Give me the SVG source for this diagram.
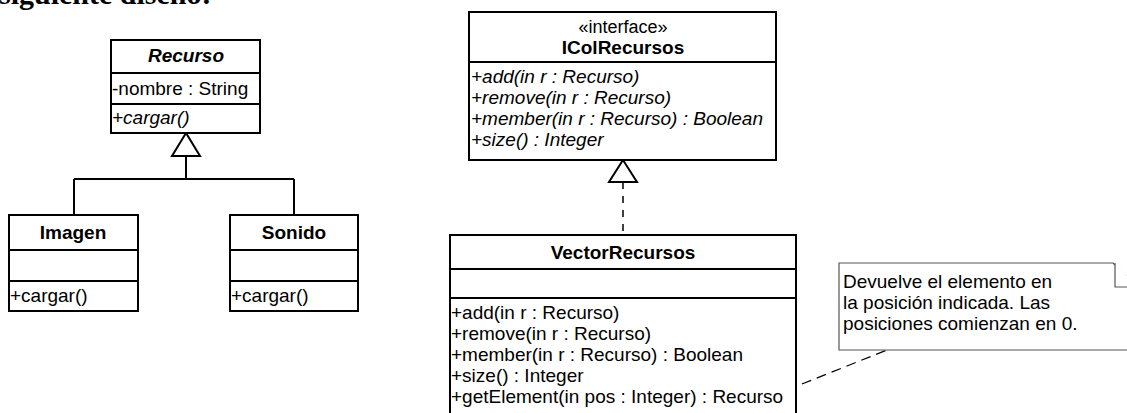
<svg xmlns="http://www.w3.org/2000/svg" width="1127" height="413" viewBox="0 0 1127 413">
<style>
.box{fill:#fff;stroke:#000;stroke-width:2}
.ln{stroke:#000;stroke-width:2;fill:none}
.t{font-family:"Liberation Sans",Arial,sans-serif;font-size:19px;fill:#000}
.b{font-weight:bold}
.i{font-style:italic}
.c{text-anchor:middle}
.dash{stroke:#000;stroke-width:1.5;fill:none;stroke-dasharray:7,7}
.ndash{stroke:#000;stroke-width:1.2;fill:none;stroke-dasharray:10,6}
.note{fill:#fff;stroke:#555;stroke-width:1.2}
</style>
<text x="-1" y="3.5" style="font-family:'Liberation Serif','Times New Roman',serif;font-size:30px;font-weight:bold">siguiente diseño:</text>
<g id="connectors">
<path class="ln" d="M186,156 V179 M74,179 H294 M74,179 V215 M294,179 V215"/>
<polygon class="ln" points="186,133 172,156 200,156" fill="#fff"/>
<path class="dash" d="M623,182 V235"/>
<polygon class="ln" points="623,160 609,182 637,182" fill="#fff"/>
<path class="ndash" d="M787,390 L887,350"/>
</g>
<g id="Recurso">
<rect class="box" x="111" y="40" width="149" height="93"/>
<path class="ln" d="M111,73 H260 M111,104 H260"/>
<text class="t b i c" x="186" y="62">Recurso</text>
<text class="t" x="112" y="95">-nombre : String</text>
<text class="t i" x="112" y="124">+cargar()</text>
</g>
<g id="Imagen">
<rect class="box" x="9" y="215" width="129" height="96"/>
<path class="ln" d="M9,250 H138 M9,281 H138"/>
<text class="t b c" x="73" y="239">Imagen</text>
<text class="t" x="10" y="302">+cargar()</text>
</g>
<g id="Sonido">
<rect class="box" x="230" y="215" width="128" height="96"/>
<path class="ln" d="M230,250 H358 M230,281 H358"/>
<text class="t b c" x="294" y="239">Sonido</text>
<text class="t" x="231" y="302">+cargar()</text>
</g>
<g id="IColRecursos">
<rect class="box" x="469" y="12" width="307" height="148"/>
<path class="ln" d="M469,62 H776"/>
<text class="t c" x="623" y="33" style="font-size:18px">«interface»</text>
<text class="t b c" x="623" y="54">IColRecursos</text>
<text class="t i" x="471" y="83">+add(in r : Recurso)</text>
<text class="t i" x="471" y="104">+remove(in r : Recurso)</text>
<text class="t i" x="471" y="125">+member(in r : Recurso) : Boolean</text>
<text class="t i" x="471" y="146">+size() : Integer</text>
</g>
<g id="VectorRecursos">
<rect class="box" x="450" y="235" width="346" height="190"/>
<path class="ln" d="M450,269 H796 M450,298 H796"/>
<text class="t b c" x="623" y="259">VectorRecursos</text>
<text class="t" x="451" y="319">+add(in r : Recurso)</text>
<text class="t" x="451" y="340">+remove(in r : Recurso)</text>
<text class="t" x="451" y="361">+member(in r : Recurso) : Boolean</text>
<text class="t" x="451" y="382">+size() : Integer</text>
<text class="t" x="451" y="403">+getElement(in pos : Integer) : Recurso</text>
</g>
<g id="note">
<path class="note" d="M839,263 H1113 L1137,287 V350 H839 Z"/>
<path class="note" d="M1115,263 V287 H1137" fill="none"/>
<text class="t" x="843" y="288">Devuelve el elemento en</text>
<text class="t" x="843" y="309">la posición indicada. Las</text>
<text class="t" x="843" y="330">posiciones comienzan en 0.</text>
</g>
</svg>
